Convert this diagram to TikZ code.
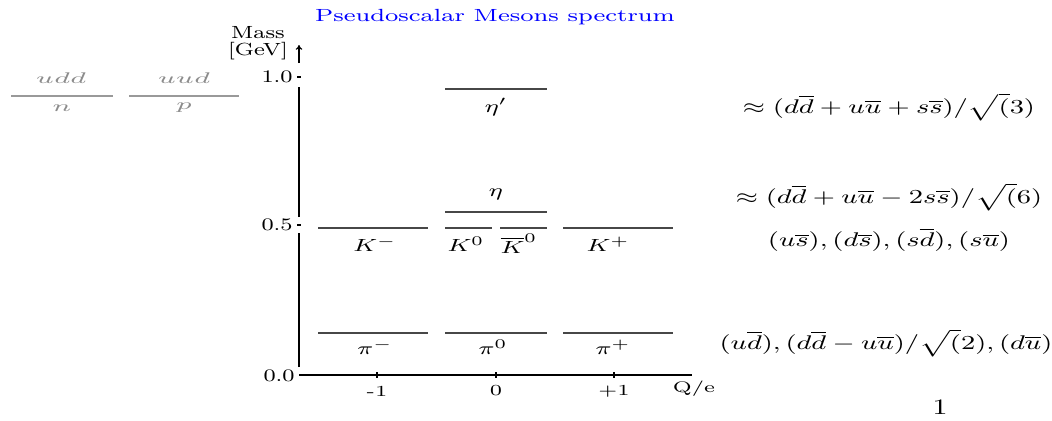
\documentclass[tikz,border=0pt]{standalone}
\usepackage{graphicx}
\usetikzlibrary{arrows.meta}
\newcommand{\sx}{1.4}
\newcommand{\hs}[1]{\scalebox{\sx}[1]{#1}}
\newcommand{\hsw}[2]{\scalebox{#1}[1]{#2}}
\begin{document}
\begin{tikzpicture}[x=0.4545pt,y=-0.4545pt,
  lvl/.style={draw=black!72, line width=0.6pt},
  gr/.style={draw=black!40, line width=0.6pt},
  axis/.style={draw=black, line width=0.55pt},
  lab/.style={inner sep=0pt, font=\scriptsize},
  mlab/.style={inner sep=0pt, font=\footnotesize},
  glab/.style={inner sep=0pt, font=\scriptsize, text=black!45},
  form/.style={inner sep=0pt, font=\small}]
\useasboundingbox (0,0) rectangle (1052,421);
% title
\node[inner sep=0pt, font=\footnotesize, text=blue] (title) at (495,17) {\hsw{1.42}{Pseudoscalar Mesons spectrum}};
% axis label
\node[mlab, align=center] (mass) at (258,43) {\hsw{1.3}{Mass}\\[-1.5pt]\hsw{1.3}{[GeV]}};
% vertical axis
\draw[axis] (299,367) -- (299,233);
\draw[axis] (299,217) -- (299,87);
\draw[axis, -{To[length=2.2pt,width=3pt]}] (299,63) -- (299,45);
\draw[axis] (297,77) -- (301,77);
\draw[axis] (297,225) -- (301,225);
\node[mlab, anchor=east] (t10) at (293,77) {\hsw{1.3}{1.0}};
\node[mlab, anchor=east] (t05) at (293,225) {\hsw{1.3}{0.5}};
\node[mlab, anchor=east] (t00) at (295,376) {\hsw{1.3}{0.0}};
% horizontal axis
\draw[axis] (299,375) -- (692,375);
\foreach \xx in {377,496,614} \draw[axis] (\xx,372) -- (\xx,378);
\node[lab] (qm) at (377,391) {\hs{-1}};
\node[lab] (q0) at (496,391) {\hs{0}};
\node[lab] (qp) at (614,391) {\hs{+1}};
\node[lab] (qe) at (694,389) {\hs{Q/e}};
% pions
\draw[lvl] (318,333) -- (428,333);
\draw[lvl] (445,333) -- (547,333);
\draw[lvl] (563,333) -- (673,333);
\node[mlab] (pim) at (375,347) {\hs{$\pi^-$}};
\node[mlab] (piz) at (493,347) {\hs{$\pi^0$}};
\node[mlab] (pip) at (613,347) {\hs{$\pi^+$}};
% kaons
\draw[lvl] (318,228) -- (428,228);
\draw[lvl] (445,228) -- (492,228);
\draw[lvl] (500,228) -- (547,228);
\draw[lvl] (563,228) -- (673,228);
\node[mlab] (km) at (375,244) {\hs{$K^-$}};
\node[mlab] (kz) at (466,244) {\hs{$K^0$}};
\node[mlab] (kzb) at (519,244) {\hs{$\overline{K}^0$}};
\node[mlab] (kp) at (608,244) {\hs{$K^+$}};
% eta
\draw[lvl] (445,212) -- (547,212);
\node[mlab] (eta) at (496,194) {\hs{$\eta$}};
% eta prime
\draw[lvl] (445,89) -- (547,89);
\node[mlab] (etap) at (496,107) {\hs{$\eta'$}};
% nucleons
\draw[gr] (11,96) -- (113,96);
\draw[gr] (129,96) -- (239,96);
\node[glab] (udd) at (61,78) {\hsw{1.75}{$udd$}};
\node[glab] (n) at (62,108) {\hsw{1.75}{$n$}};
\node[glab] (uud) at (184,78) {\hsw{1.75}{$uud$}};
\node[glab] (p) at (184,108) {\hsw{1.75}{$p$}};
% formulas
\node[form] (f1) at (889,107) {\hs{$\approx (d\overline{d}+u\overline{u}+s\overline{s})/\sqrt(3)$}};
\node[form] (f2) at (889,197) {\hs{$\approx (d\overline{d}+u\overline{u}-2s\overline{s})/\sqrt(6)$}};
\node[form] (f3) at (889,240) {\hs{$(u\overline{s}),(d\overline{s}),(s\overline{d}),(s\overline{u})$}};
\node[form] (f4) at (886,343) {\hs{$(u\overline{d}),(d\overline{d}-u\overline{u})/\sqrt(2),(d\overline{u})$}};
% page number
\node[inner sep=0pt, font=\normalsize] (pg) at (940,407) {\hs{1}};
\end{tikzpicture}
\end{document}
